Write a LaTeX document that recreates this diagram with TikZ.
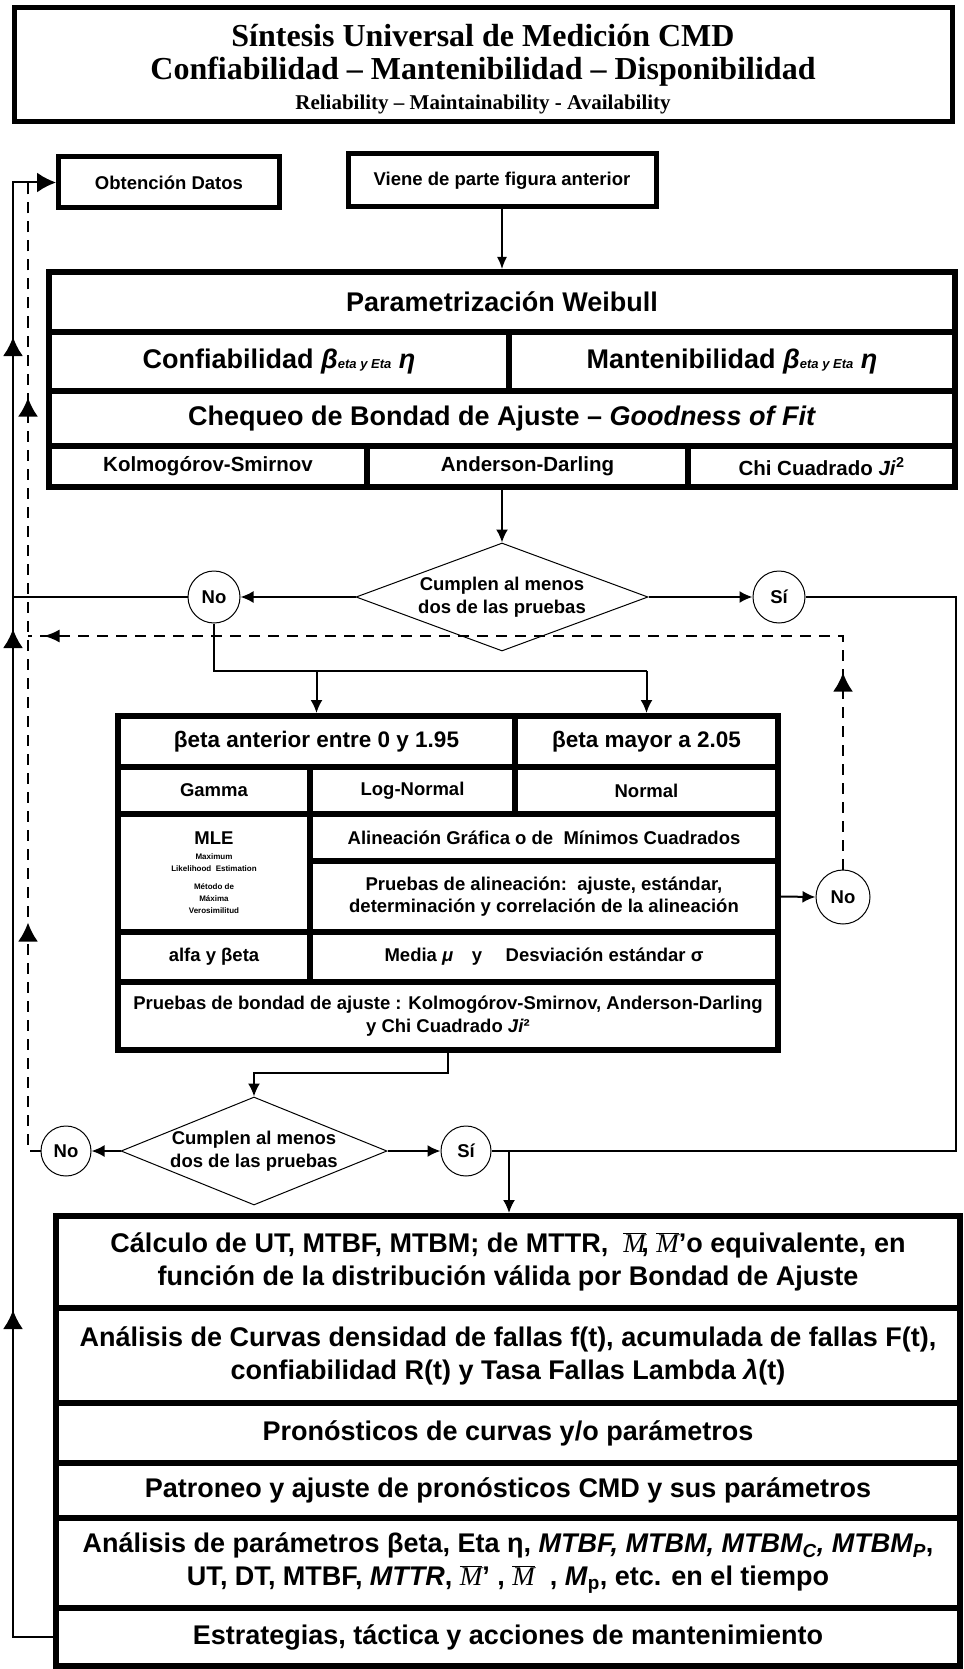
\documentclass[tikz,border=0pt]{standalone}
\usepackage{fontspec}
\setmainfont{Liberation Sans}
\newfontfamily\titlefont{Liberation Serif}
\newfontfamily\serifm{Liberation Serif}
\usetikzlibrary{arrows.meta,shapes.geometric,decorations.markings,calc}

% font sizes (1pt = 1px of the page)
\newcommand\fbig{\fontsize{27}{33}\selectfont}
\newcommand\fhdr{\fontsize{22.5}{26}\selectfont}
\newcommand\fmid{\fontsize{20.5}{24}\selectfont}
\newcommand\fsm{\fontsize{18.5}{22.5}\selectfont}
\newcommand\ftiny{\fontsize{8}{12}\selectfont}
\newcommand\Mbar{\ensuremath{\overline{\hbox{\serifm\itshape\mdseries M}}}}

% table cell: name, x1, y1, x2, y2, font, text
\newcommand\tcell[7]{%
  \node[cellbox, font=#6, minimum width={(#4-#2)*1pt}, minimum height={(#5-#3)*1pt}]
    (#1) at ({(#2+#4)/2},{(#3+#5)/2}) {#7};}

\tikzset{
  cellbox/.style={draw, line width=6pt, inner sep=1pt, align=center},
  conn/.style={line width=2pt},
  arr/.style={conn, -{Latex[length=13pt,width=12pt]}},
  dsh/.style={line width=2.5pt, dash pattern=on 11pt off 8pt},
  circ/.style={circle, draw, line width=1pt, minimum size=#1, inner sep=0pt, font=\fsm\bfseries},
  circ/.default=52pt,
  dia/.style={diamond, draw, line width=1pt, inner sep=0pt},
  bigtip/.tip={Latex[length=19pt,width=20pt]},
}

\begin{document}
\begin{tikzpicture}[x=1pt,y=-1pt]
\useasboundingbox (0,0) rectangle (963,1669);

% ---------- title ----------
\node[draw, line width=5pt, minimum width=938pt, minimum height=114pt] (title) at (483,65) {};
\node[font=\titlefont\bfseries\fontsize{32}{32}\selectfont] (tl1) at (483,36) {Síntesis Universal de Medición CMD};
\node[font=\titlefont\bfseries\fontsize{32}{32}\selectfont] (tl2) at (483,72) {Confiabilidad – Mantenibilidad – Disponibilidad};
\node[font=\titlefont\bfseries\fontsize{21}{21}\selectfont] (tl3) at (483,104) {Reliability – Maintainability - Availability};

% ---------- start boxes ----------
\node[draw, line width=5pt, minimum width=221pt, minimum height=51pt, font=\fsm\bfseries] (obt) at (169,182.5) {Obtención Datos};
\node[draw, line width=5pt, minimum width=308pt, minimum height=53pt, font=\fsm\bfseries] (viene) at (502,180.5) {Viene de parte figura anterior};

% ---------- Weibull block ----------
\tcell{w1}{49}{272}{955}{332}{\fbig\bfseries}{Parametrización Weibull}
\tcell{w2a}{49}{332}{509}{391}{\fbig\bfseries}{Confiabilidad {\itshape β{\fontsize{13}{13}\selectfont eta y Eta} η}}
\tcell{w2b}{509}{332}{955}{391}{\fbig\bfseries}{Mantenibilidad {\itshape β{\fontsize{13}{13}\selectfont eta y Eta} η}}
\tcell{w3}{49}{391}{955}{446}{\fbig\bfseries}{Chequeo de Bondad de Ajuste – \textit{Goodness of Fit}}
\tcell{w4a}{49}{446}{367}{487}{\fmid\bfseries}{Kolmogórov-Smirnov}
\tcell{w4b}{367}{446}{688}{487}{\fmid\bfseries}{Anderson-Darling}
\tcell{w4c}{688}{446}{955}{487}{\fmid\bfseries}{Chi Cuadrado \textit{Ji}\textsuperscript{2}}

% ---------- first decision ----------
\node[dia, minimum width=292pt, minimum height=108pt] (d1) at (502,597) {};
\node[font=\fsm\bfseries, align=center] (d1t) at (d1.center) {Cumplen al menos\\dos de las pruebas};
\node[circ] (no1) at (214,597) {No};
\node[circ] (si1) at (779,597) {Sí};

% ---------- distribution table ----------
\tcell{t1a}{118}{716}{515}{767}{\fhdr\bfseries}{βeta anterior entre 0 y 1.95}
\tcell{t1b}{515}{716}{778}{767}{\fhdr\bfseries}{βeta mayor a 2.05}
\tcell{t2a}{118}{767}{310}{814}{\fsm\bfseries}{Gamma}
\tcell{t2b}{310}{767}{515}{814}{\fsm\bfseries}{Log-Normal}
\tcell{t2c}{515}{767}{778}{814}{\fsm\bfseries}{Normal}
\tcell{t3a}{118}{814}{310}{932}{\ftiny\bfseries}{{\fsm MLE}\\[3pt]Maximum\\Likelihood\ \ Estimation\\[6pt]Método de\\Máxima\\Verosimilitud}
\tcell{t3b}{310}{814}{778}{861}{\fsm\bfseries}{Alineación Gráfica o de\ \ Mínimos Cuadrados}
\tcell{t4b}{310}{861}{778}{932}{\fsm\bfseries}{Pruebas de alineación:\ \ ajuste, estándar,\\determinación y correlación de la alineación}
\tcell{t5a}{118}{932}{310}{982}{\fsm\bfseries}{alfa y βeta}
\tcell{t5b}{310}{932}{778}{982}{\fsm\bfseries}{Media \textit{μ}\quad y\quad\ Desviación estándar σ}
\tcell{t6}{118}{982}{778}{1050}{\fsm\bfseries}{Pruebas de bondad de ajuste : Kolmogórov-Smirnov, Anderson-Darling\\y Chi Cuadrado \textit{Ji}²}
\node[circ=54pt] (no2) at (843,897) {No};

% ---------- second decision ----------
\node[dia, minimum width=266pt, minimum height=108pt] (d2) at (254,1151) {};
\node[font=\fsm\bfseries, align=center] (d2t) at (d2.center) {Cumplen al menos\\dos de las pruebas};
\node[circ=50pt] (no3) at (66,1151) {No};
\node[circ=50pt] (si2) at (466,1151) {Sí};

% ---------- results block ----------
\tcell{b1}{56}{1216}{960}{1308}{\fbig\bfseries}{Cálculo de UT, MTBF, MTBM; de MTTR,\ \ \Mbar\!, \Mbar'o equivalente, en\\función de la distribución\ válida por Bondad de Ajuste}
\tcell{b2}{56}{1308}{960}{1403}{\fbig\bfseries}{Análisis de Curvas densidad de fallas\ f(t), acumulada de fallas\ F(t),\\confiabilidad R(t) y\ Tasa Fallas Lambda \textit{λ}(t)}
\tcell{b3}{56}{1403}{960}{1463}{\fbig\bfseries}{Pronósticos de curvas y/o parámetros}
\tcell{b4}{56}{1463}{960}{1518}{\fbig\bfseries}{Patroneo y ajuste de pronósticos CMD y sus parámetros}
\tcell{b5}{56}{1518}{960}{1608}{\fbig\bfseries}{Análisis de parámetros βeta, Eta η, \textit{MTBF, MTBM, MTBM\textsubscript{C}, MTBM\textsubscript{P}},\\UT, DT, MTBF, \textit{MTTR}, \Mbar' ,\ \Mbar\ \ , \textit{M}\textsubscript{p}, etc. en el tiempo}
\tcell{b6}{56}{1608}{960}{1666}{\fbig\bfseries}{Estrategias, táctica y acciones de mantenimiento}

% ---------- routing coordinates ----------
\coordinate (L) at (13,0);
\coordinate (D) at (28,0);
\coordinate (R) at (956,0);
\coordinate (dy) at (0,636);
\coordinate (br) at (0,671);
\coordinate (lk) at (448,1073);
\coordinate (sd) at (509,1151);

% ---------- connectors ----------
\draw[conn, line width=1.5pt, -{Latex[length=12pt,width=10pt]}] (viene.south) -- (w1.north);
\draw[arr] (w4b.south -| d1.north) -- (d1.north);
\draw[arr] (d1.west) -- (no1.east);
\draw[arr] (d1.east) -- (si1.west);
\draw[conn] (no1.west) -- (no1.west -| L);
\draw[conn] (no1.south) |- (t1b.north |- br);
\draw[arr] (t1a.north |- br) -- (t1a.north);
\draw[arr] (t1b.north |- br) -- (t1b.north);
\draw[arr] (t4b.east) -- (no2.west);
\draw[conn] (si1.east) -- (si1.east -| R) |- (si2.east);
\draw[arr] (t6.south -| lk) -- (lk) -| (d2.north);
\draw[arr] (d2.west) -- (no3.east);
\draw[arr] (d2.east) -- (si2.west);
\draw[arr] (sd) -- (sd |- b1.north);

% main feedback loop back to data collection
\draw[conn, -bigtip, postaction={decorate}, decoration={markings,
    mark=at position 367pt with {\arrow{bigtip}},
    mark=at position 1048pt with {\arrow{bigtip}},
    mark=at position 1340pt with {\arrow{bigtip}}}]
  (b6.west) -- (b6.west -| L) -- (L |- obt.west) -- (obt.west);

% dashed returns
\draw[dsh, postaction={decorate}, decoration={markings,
    mark=at position 197pt with {\arrow{bigtip}},
    mark=at position 1033pt with {\arrow{Latex[length=16pt,width=13pt]}}}]
  (no2.north) |- (D |- dy);
\draw[dsh, postaction={decorate}, decoration={markings,
    mark=at position 241pt with {\arrow{bigtip}},
    mark=at position 766pt with {\arrow{bigtip}}}]
  (no3.west) -- (no3.west -| D) -- (D |- obt.west);
\end{tikzpicture}
\end{document}
